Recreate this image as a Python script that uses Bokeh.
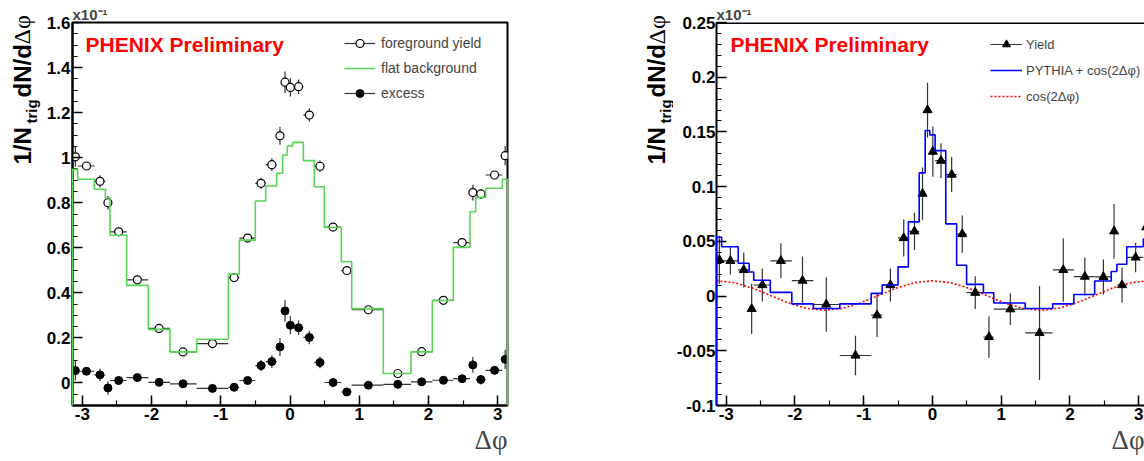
import numpy as np
from bokeh.plotting import figure
from bokeh.layouts import row, column
from bokeh.models import (Range1d, FixedTicker, NumeralTickFormatter, Label, Legend,
                          LegendItem, Span, Title)
from bokeh.embed import file_html
from bokeh.resources import INLINE

PI = np.pi

# ---------------- data ----------------
# variable-width bin edges in delta-phi (shared by both panels)
bin_edges = [-3.1416, -3.067, -2.826, -2.667, -2.60, -2.359, -2.046, -1.733, -1.348,
             -0.891, -0.732, -0.501, -0.351, -0.193, -0.106, -0.0385, 0.0385, 0.193,
             0.351, 0.496, 0.741, 0.891, 1.348, 1.748, 2.056, 2.359, 2.60, 2.682,
             2.826, 3.067, 3.1416]
# plotted point positions
phi_points = [-3.10, -2.94, -2.745, -2.63, -2.475, -2.205, -1.891, -1.545, -1.12,
              -0.807, -0.612, -0.418, -0.262, -0.145, -0.072, 0.005, 0.124, 0.279,
              0.433, 0.622, 0.821, 1.132, 1.557, 1.902, 2.216, 2.486, 2.641, 2.757,
              2.955, 3.108]

# left panel (units of 1e-1)
foreground_yield = [1.004, 0.963, 0.895, 0.80, 0.671, 0.458, 0.242, 0.138, 0.175,
                    0.468, 0.643, 0.886, 0.969, 1.097, 1.335, 1.312, 1.315, 1.189,
                    0.962, 0.692, 0.499, 0.325, 0.042, 0.139, 0.367, 0.623, 0.845,
                    0.839, 0.923, 1.009]
yield_error = [0.044, 0.010, 0.027, 0.030, 0.010, 0.010, 0.010, 0.010, 0.010, 0.012,
               0.012, 0.025, 0.028, 0.040, 0.048, 0.040, 0.032, 0.030, 0.026, 0.012,
               0.015, 0.010, 0.010, 0.010, 0.010, 0.012, 0.035, 0.022, 0.012, 0.043]
flat_background = [0.948, 0.904, 0.860, 0.822, 0.656, 0.433, 0.238, 0.138, 0.194,
                   0.483, 0.634, 0.808, 0.874, 0.931, 1.012, 1.052, 1.068, 0.987,
                   0.871, 0.690, 0.538, 0.330, 0.042, 0.138, 0.366, 0.602, 0.760,
                   0.824, 0.864, 0.904]
excess = [0.055, 0.052, 0.036, -0.022, 0.011, 0.024, 0.003, -0.004, -0.024, -0.019,
          0.011, 0.077, 0.095, 0.160, 0.320, 0.256, 0.245, 0.202, 0.091, 0.002,
          -0.040, -0.010, -0.006, 0.005, 0.012, 0.019, 0.080, 0.015, 0.056, 0.105]

# right panel (units of 1e-1)
yield_r = [0.0331, 0.0322, 0.0239, -0.0117, 0.0101, 0.0322, 0.0141, -0.0077, -0.0543,
           -0.0175, 0.0101, 0.0531, 0.0592, 0.0936, 0.170, 0.132, 0.1237, 0.111,
           0.0567, 0.0031, -0.0374, -0.012, -0.0337, 0.0239, 0.0178, 0.0175, 0.0592,
           0.0101, 0.0353, 0.0629]
yield_r_err = [0.022, 0.0125, 0.016, 0.023, 0.015, 0.016, 0.022, 0.025, 0.018, 0.020,
               0.015, 0.017, 0.017, 0.024, 0.025, 0.023, 0.016, 0.016, 0.017, 0.015,
               0.019, 0.0145, 0.043, 0.029, 0.0175, 0.016, 0.025, 0.016, 0.0135, 0.014]
pythia_plus_cos = [0.0537, 0.0451, 0.030, 0.022, 0.0144, 0.0034, -0.0071, -0.0113,
                   -0.0071, 0.0025, 0.0101, 0.0267, 0.0678, 0.1126, 0.1513, 0.1473,
                   0.1329, 0.066, 0.0282, 0.0107, 0.003, -0.0064, -0.0113, -0.0071,
                   0.0015, 0.0138, 0.0224, 0.0291, 0.0451, 0.052]
cos_phi = [-3.1416, -2.8798, -2.618, -2.3562, -2.0944, -1.8326, -1.5708, -1.309,
           -1.0472, -0.7854, -0.5236, -0.2618, 0.0, 0.2618, 0.5236, 0.7854, 1.0472,
           1.309, 1.5708, 1.8326, 2.0944, 2.3562, 2.618, 2.8798, 3.1416]
cos_val = [0.0140, 0.0122, 0.0073, 0.0005, -0.0063, -0.0112, -0.0130, -0.0112,
           -0.0063, 0.0005, 0.0073, 0.0122, 0.0140, 0.0122, 0.0073, 0.0005, -0.0063,
           -0.0112, -0.0130, -0.0112, -0.0063, 0.0005, 0.0073, 0.0122, 0.0140]

x_major = [-3, -2, -1, 0, 1, 2, 3]
y_major_left = [0, 0.2, 0.4, 0.6, 0.8, 1.0, 1.2, 1.4, 1.6]
y_major_right = [-0.1, -0.05, 0, 0.05, 0.1, 0.15, 0.2, 0.25]

# ---------------- layout constants (pixels) ----------------
FONT = "Liberation Sans"
SERIF = "Liberation Serif"
FULL_H = 461
TOP_B = 22
FRAME_H = 383
BOTTOM_B = FULL_H - TOP_B - FRAME_H
FRAME_WL = 435
FRAME_WR = 431
PX_PER_UNIT = FRAME_WL / (2 * PI)

lo_edges = bin_edges[:-1]
hi_edges = bin_edges[1:]


def step_path(edges, vals, base):
    xs, ys = [edges[0]], [base]
    for i, v in enumerate(vals):
        xs += [edges[i], edges[i + 1]]
        ys += [v, v]
    xs.append(edges[-1])
    ys.append(base)
    return xs, ys


def text_fig(w, h):
    f = figure(width=w, height=h, x_range=Range1d(0, w), y_range=Range1d(h, 0),
               x_axis_type=None, y_axis_type=None, output_backend="svg",
               toolbar_location=None, min_border=0, min_border_left=0,
               min_border_right=0, min_border_top=0, min_border_bottom=0)
    f.outline_line_color = None
    return f


def add_text(f, x, y, text, size, font=FONT, style="bold", color="black",
             align="left", baseline="alphabetic", angle=0.0):
    f.add_layout(Label(x=x, y=y, text=text, text_font=font, text_font_style=style,
                       text_font_size=size, text_color=color, text_align=align,
                       text_baseline=baseline, angle=angle))


def style_axes(p, yticks, yminor):
    p.grid.visible = False
    p.xaxis.ticker = FixedTicker(ticks=x_major,
                                 minor_ticks=list(np.round(np.arange(-3.0, 3.01, 0.5), 2)))
    p.yaxis.ticker = FixedTicker(ticks=yticks, minor_ticks=yminor)
    for ax in (p.xaxis[0], p.yaxis[0]):
        ax.formatter = NumeralTickFormatter(format="0.[00]")
        ax.major_tick_in = 10
        ax.major_tick_out = 0
        ax.minor_tick_in = 5
        ax.minor_tick_out = 0
        ax.axis_line_width = 2
        ax.major_tick_line_width = 1.5
        ax.minor_tick_line_width = 1.2
        ax.major_label_text_font = FONT
        ax.major_label_text_font_style = "bold"
        ax.major_label_text_font_size = "17px"
        ax.major_label_text_color = "black"
    p.xaxis.major_label_standoff = 2
    p.yaxis.major_label_standoff = 2


def titles(p):
    # "x10^-1" exponent above the frame, "Δφ" below the tick labels at the right
    p.title.text = "x10⁻¹"
    p.title.align = "left"
    p.title.standoff = 0
    p.title.offset = 0
    p.title.text_font = FONT
    p.title.text_font_style = "bold"
    p.title.text_font_size = "15px"
    p.add_layout(Title(text="Δφ", align="right", standoff=0, offset=0,
                       text_font=SERIF, text_font_style="normal",
                       text_font_size="27px"), "below")


def y_title(f, xc, xsub):
    add_text(f, xc, 164, "1/N", "24px", angle=PI / 2, baseline="middle")
    add_text(f, xsub, 123, "trig", "15px", angle=PI / 2, baseline="middle")
    add_text(f, xc, 97, "dN/d", "24px", angle=PI / 2, baseline="middle")
    add_text(f, xc, 44, "Δφ", "24px", font=SERIF, style="normal", angle=PI / 2,
             baseline="middle")


# ================= left panel =================
pL = figure(width=518, height=FULL_H, x_range=Range1d(-PI, PI),
            y_range=Range1d(-0.1, 1.6), output_backend="svg", toolbar_location=None,
            min_border_left=30, min_border_right=53, min_border_top=TOP_B,
            min_border_bottom=BOTTOM_B)
pL.outline_line_color = "black"
pL.outline_line_width = 2
style_axes(pL, y_major_left, list(np.round(np.arange(-0.1, 1.601, 0.05), 3)))
titles(pL)

bx, by = step_path(bin_edges, flat_background, -0.1)
bg_line = pL.line(bx, by, line_color="#59d454", line_width=1.6, level="annotation")

fg_arr = np.array(foreground_yield)
ex_arr = np.array(excess)
err = np.array(yield_error)

fg_h = pL.segment(x0=lo_edges, y0=foreground_yield, x1=hi_edges, y1=foreground_yield,
                  line_color="#333333", line_width=1.2)
pL.segment(x0=phi_points, y0=fg_arr - err, x1=phi_points, y1=fg_arr + err,
           line_color="#333333", line_width=1.2)
fg_pts = pL.scatter(phi_points, foreground_yield, marker="circle", size=8,
                    fill_color="white", line_color="black", line_width=1.2)

ex_h = pL.segment(x0=lo_edges, y0=excess, x1=hi_edges, y1=excess,
                  line_color="#333333", line_width=1.2)
pL.segment(x0=phi_points, y0=ex_arr - err, x1=phi_points, y1=ex_arr + err,
           line_color="#333333", line_width=1.2)
ex_pts = pL.scatter(phi_points, excess, marker="circle", size=8, fill_color="black",
                    line_color="black")

legL = Legend(items=[LegendItem(label="foreground yield", renderers=[fg_h, fg_pts]),
                     LegendItem(label="flat background", renderers=[bg_line]),
                     LegendItem(label="excess", renderers=[ex_h, ex_pts])],
              location=(272, 302))
legL.border_line_color = None
legL.background_fill_alpha = 0
legL.label_text_font = FONT
legL.label_text_font_size = "14px"
legL.glyph_width = 31
legL.glyph_height = 20
legL.label_height = 20
legL.spacing = 5
legL.padding = 0
legL.margin = 0
legL.label_standoff = 6
pL.add_layout(legL)

pL.add_layout(Label(x=-PI + 13 / PX_PER_UNIT, y=1.6 - 22 * 1.7 / FRAME_H,
                    text="PHENIX Preliminary", text_color="#ff0000", text_font=FONT,
                    text_font_style="bold", text_font_size="21px", text_align="left",
                    text_baseline="alphabetic"))

tL = text_fig(42, FULL_H)
y_title(tL, 21.5, 31)

# ================= right panel =================
XR1 = -PI + FRAME_WR / PX_PER_UNIT
pR = figure(width=471, height=FULL_H, x_range=Range1d(-PI, XR1),
            y_range=Range1d(-0.1, 0.25), output_backend="svg", toolbar_location=None,
            min_border_left=40, min_border_right=0, min_border_top=TOP_B,
            min_border_bottom=BOTTOM_B)
pR.outline_line_color = None
style_axes(pR, y_major_right, list(np.round(np.arange(-0.1, 0.2501, 0.01), 3)))
pR.yaxis.major_label_standoff = 1
titles(pR)
pR.add_layout(Span(location=0.25, dimension="width", line_color="black", line_width=3))

cos_line = pR.line(cos_phi, cos_val, line_color="#ff0000", line_width=1.6,
                   line_dash="2 2")
px_, py_ = step_path(bin_edges, pythia_plus_cos, -0.1)
py_line = pR.line(px_, py_, line_color="#0000ff", line_width=1.6, level="annotation")

yr = np.array(yield_r)
yre = np.array(yield_r_err)
yr_h = pR.segment(x0=lo_edges, y0=yield_r, x1=hi_edges, y1=yield_r,
                  line_color="#333333", line_width=1.2)
pR.segment(x0=phi_points, y0=yr - yre, x1=phi_points, y1=yr + yre,
           line_color="#333333", line_width=1.2)
yr_pts = pR.scatter(phi_points, yield_r, marker="triangle", size=9, fill_color="black",
                    line_color="black")

legR = Legend(items=[LegendItem(label="Yield", renderers=[yr_h, yr_pts]),
                     LegendItem(label="PYTHIA + cos(2Δφ)", renderers=[py_line]),
                     LegendItem(label="cos(2Δφ)", renderers=[cos_line])],
              location=(274, 299))
legR.border_line_color = None
legR.background_fill_alpha = 0
legR.label_text_font = FONT
legR.label_text_font_size = "13px"
legR.glyph_width = 32
legR.glyph_height = 20
legR.label_height = 20
legR.spacing = 6
legR.padding = 0
legR.margin = 0
legR.label_standoff = 4
pR.add_layout(legR)

pR.add_layout(Label(x=-PI + 14 / PX_PER_UNIT, y=0.25 - 22 * 0.35 / FRAME_H,
                    text="PHENIX Preliminary", text_color="#ff0000", text_font=FONT,
                    text_font_style="bold", text_font_size="21px", text_align="left",
                    text_baseline="alphabetic"))

tR = text_fig(113, FULL_H)
y_title(tR, 96, 105)

layout = row(tL, column(pL), tR, column(pR))
open("out.html", "w").write(file_html(layout, INLINE))
